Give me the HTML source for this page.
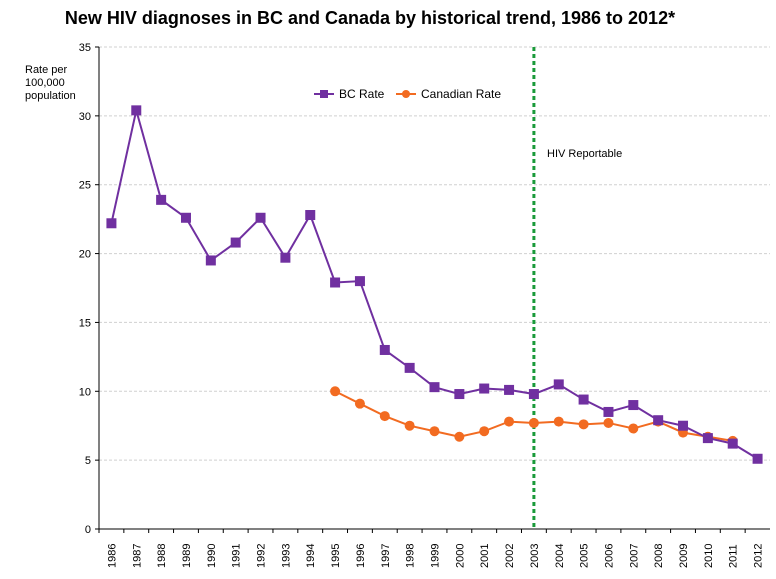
<!DOCTYPE html>
<html><head><meta charset="utf-8"><style>
body{margin:0;background:#fff;font-family:"Liberation Sans",sans-serif}
svg text{font-family:"Liberation Sans",sans-serif}
</style></head><body>
<svg width="776" height="574" viewBox="0 0 776 574" id="chart">
<text x="370" y="24" text-anchor="middle" font-size="18" font-weight="bold">New HIV diagnoses in BC and Canada by historical trend, 1986 to 2012*</text>
<text x="25" y="73" font-size="11"><tspan x="25">Rate per</tspan><tspan x="25" dy="13">100,000</tspan><tspan x="25" dy="13">population</tspan></text>
<g id="grid"></g><g id="axes"></g><g id="series"></g>
<g>
<g><line x1="314" y1="94" x2="334" y2="94" stroke="#7030A0" stroke-width="2"/><rect x="320" y="90" width="8" height="8" fill="#7030A0"/><text x="339" y="98" font-size="12">BC Rate</text></g>
<g><line x1="396" y1="94" x2="416" y2="94" stroke="#F26B21" stroke-width="2"/><circle cx="406" cy="94" r="4" fill="#F26B21"/><text x="421" y="98" font-size="12">Canadian Rate</text></g>
</g>
<text x="547" y="157" font-size="11">HIV Reportable</text>
</svg>
<script>
const years=[1986,1987,1988,1989,1990,1991,1992,1993,1994,1995,1996,1997,1998,1999,2000,2001,2002,2003,2004,2005,2006,2007,2008,2009,2010,2011,2012];
const bcRate=[22.2,30.4,23.9,22.6,19.5,20.8,22.6,19.7,22.8,17.9,18.0,13.0,11.7,10.3,9.8,10.2,10.1,9.8,10.5,9.4,8.5,9.0,7.9,7.5,6.6,6.2,5.1];
const canYears=[1995,1996,1997,1998,1999,2000,2001,2002,2003,2004,2005,2006,2007,2008,2009,2010,2011];
const canRate=[10.0,9.1,8.2,7.5,7.1,6.7,7.1,7.8,7.7,7.8,7.6,7.7,7.3,7.8,7.0,6.7,6.4];
const yTicks=[0,5,10,15,20,25,30,35];
const reportableYear=2003;
const L=99,R=770,T=47,B=529,band=(R-L)/years.length;
const xS=yr=>L+band*(years.indexOf(yr)+0.5);
const yS=v=>B-(v/35)*(B-T);
const NS="http://www.w3.org/2000/svg";
function mk(tag,attrs,parent){const e=document.createElementNS(NS,tag);for(const k in attrs)e.setAttribute(k,attrs[k]);parent.appendChild(e);return e;}
const grid=document.getElementById('grid'),axes=document.getElementById('axes'),ser=document.getElementById('series');
yTicks.forEach(t=>{
 if(t>0){const g=mk('line',{x1:L,x2:R,y1:yS(t),y2:yS(t),stroke:'#d0d0d0','stroke-dasharray':'3,2'},grid);
 
 }
 const tk=mk('line',{x1:L-4,x2:L,y1:yS(t),y2:yS(t),stroke:'#000'},axes);
 
 
 const tx=mk('text',{x:L-8,y:yS(t)+4,'text-anchor':'end','font-size':'11'},axes);tx.textContent=t;
 
 
});
const ya=mk('line',{x1:L,x2:L,y1:T,y2:B,stroke:'#000'},axes);


const xa=mk('line',{x1:L,x2:R,y1:B,y2:B,stroke:'#000'},axes);


years.forEach((yr,i)=>{
 const xl=L+band*i;
 mk('line',{x1:xl,x2:xl,y1:B,y2:B+4,stroke:'#000'},axes);
 const x=xS(yr);
 const tx=mk('text',{x:x+4,y:568,'font-size':'11',transform:`rotate(-90 ${x+4} 568)`},axes);tx.textContent=yr;
 
 
});
const rx=xS(reportableYear);
const rl=mk('line',{x1:rx,x2:rx,y1:T,y2:B,stroke:'#1a9a3a','stroke-width':3,'stroke-dasharray':'4,3'},ser);


const cl=mk('polyline',{points:canYears.map((y,i)=>xS(y)+','+yS(canRate[i])).join(' '),fill:'none',stroke:'#F26B21','stroke-width':2},ser);


const bl=mk('polyline',{points:years.map((y,i)=>xS(y)+','+yS(bcRate[i])).join(' '),fill:'none',stroke:'#7030A0','stroke-width':2},ser);


canYears.forEach((y,i)=>{const c=mk('circle',{cx:xS(y),cy:yS(canRate[i]),r:5,fill:'#F26B21'},ser);
 
 });
years.forEach((y,i)=>{const r=mk('rect',{x:xS(y)-5,y:yS(bcRate[i])-5,width:10,height:10,fill:'#7030A0'},ser);
 
 });
</script>
</body></html>
